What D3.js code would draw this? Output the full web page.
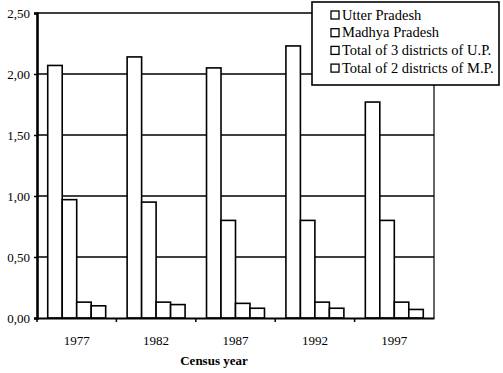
<!DOCTYPE html>
<html>
<head>
<meta charset="utf-8">
<script src="https://cdn.jsdelivr.net/npm/d3@7"></script>
<style>
	body { margin: 0; background: #fff; }
	text { font-family: "Liberation Serif", "DejaVu Serif", serif; fill: #000; }
</style>
</head>
<body>
<div id="chart"></div>
<script>
// census years and series
var years= ["1977","1982","1987","1992","1997"];
var series= ["Utter Pradesh","Madhya Pradesh","Total of 3 districts of U.P.","Total of 2 districts of M.P."];

var utter= [2.07, 2.14, 2.05, 2.23, 1.77];
var madhya= [0.97, 0.95, 0.80, 0.80, 0.80];
var tot_up= [0.13, 0.13, 0.12, 0.13, 0.13];
var tot_mp= [0.10, 0.11, 0.08, 0.08, 0.07];

var y_ticks= [0, 0.5, 1.0, 1.5, 2.0, 2.5];

var valores= [utter, madhya, tot_up, tot_mp];

var W= 503, H= 373;
var m_left= 37, m_right= 434, m_top= 13, m_bottom= 318;

var svg= d3.select("#chart")
		.append("svg")
		.attr("width", W)
		.attr("height", H);

var x0= d3.scaleBand()
	.domain(years)
	.range([m_left, m_right])
	.padding(0);

var x1= d3.scaleBand()
	.domain(d3.range(series.length))
	.range([0, x0.bandwidth()])
	.paddingInner(0)
	.paddingOuter(0.74);

var y= d3.scaleLinear()
	.domain([0, 2.5])
	.range([m_bottom, m_top]);

var fmt= function(d) { return d3.format(".2f")(d).replace(".", ","); };

// gridlines
svg.append("g")
	.selectAll("line")
	.data(y_ticks.filter(function(d) { return d> 0; }))
	.enter().append("line")
		.attr("x1", m_left)
		.attr("x2", m_right)
		.attr("y1", function(d) { return y(d); })
		.attr("y2", function(d) { return y(d); })
		.attr("stroke", "#000")
		.attr("stroke-width", 1.6);

// right border
svg.append("line")
	.attr("x1", m_right).attr("x2", m_right)
	.attr("y1", m_top).attr("y2", m_bottom)
	.attr("stroke", "#000")
	.attr("stroke-width", 1.2);

// bars
var grupos= svg.append("g")
	.selectAll("g")
	.data(years)
	.enter().append("g")
		.attr("transform", function(d) { return "translate(" + x0(d) + ",0)"; });

grupos.selectAll("rect")
	.data(function(d, i) { return valores.map(function(v, k) { return {k: k, v: v[i]}; }); })
	.enter().append("rect")
		.attr("x", function(d) { return x1(d.k); })
		.attr("y", function(d) { return y(d.v); })
		.attr("width", x1.bandwidth())
		.attr("height", function(d) { return m_bottom- y(d.v); })
		.attr("fill", "#fff")
		.attr("stroke", "#000")
		.attr("stroke-width", 1.6);

// y axis
var yAxis= d3.axisLeft(y)
	.tickValues(y_ticks)
	.tickFormat(fmt)
	.tickSize(3)
	.tickPadding(4);

var gy= svg.append("g")
	.attr("transform", "translate(" + m_left + ",0)")
	.call(yAxis);
gy.select(".domain").attr("stroke-width", 2.6);
gy.selectAll(".tick line").attr("stroke-width", 1.5);
gy.selectAll("text")
	.style("font-family", "Liberation Serif")
	.style("font-size", "13px");

// x axis, ticks at category boundaries
var xAxis= d3.axisBottom(x0)
	.tickSize(0)
	.tickPadding(18);

var gx= svg.append("g")
	.attr("transform", "translate(0," + m_bottom + ")")
	.call(xAxis);
gx.select(".domain").attr("stroke-width", 2.2);
gx.selectAll("text")
	.style("font-family", "Liberation Serif")
	.style("font-size", "13px");

gx.selectAll(".sep")
	.data(years)
	.enter().append("line")
		.attr("class", "sep")
		.attr("x1", function(d) { return x0(d); })
		.attr("x2", function(d) { return x0(d); })
		.attr("y1", 0)
		.attr("y2", 4)
		.attr("stroke", "#000")
		.attr("stroke-width", 1.5);

svg.append("text")
	.attr("x", 214)
	.attr("y", 365)
	.attr("text-anchor", "middle")
	.style("font-size", "13px")
	.style("font-weight", "bold")
	.text("Census year");

// legend
var leg= svg.append("g");

leg.append("rect")
	.attr("x", 312)
	.attr("y", 2)
	.attr("width", 187)
	.attr("height", 83)
	.attr("fill", "#fff")
	.attr("stroke", "#000")
	.attr("stroke-width", 1.6);

for ((i= 0); (i< series.length); (i++)) {
	var yy= 15+ i* 17.7;

	leg.append("rect")
		.attr("x", 331)
		.attr("y", yy- 4)
		.attr("width", 8)
		.attr("height", 8)
		.attr("fill", "#fff")
		.attr("stroke", "#000")
		.attr("stroke-width", 1.3);

	leg.append("text")
		.attr("x", 342)
		.attr("y", yy+ 4.5)
		.style("font-size", "14.5px")
		.text(series[i]);
}
</script>
</body>
</html>
